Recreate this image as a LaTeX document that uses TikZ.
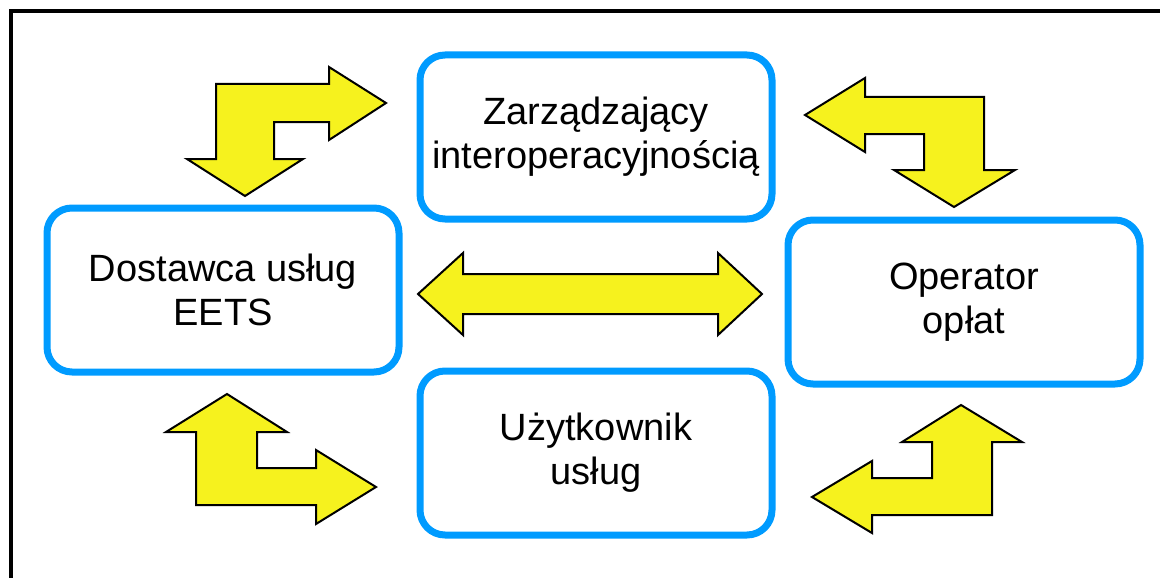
\documentclass[tikz,border=0pt]{standalone}
\usepackage{fontspec}
\setmainfont{Liberation Sans}
\usepackage{tikz}
\usetikzlibrary{positioning}
\definecolor{boxblue}{RGB}{0,155,255}
\definecolor{arrowyellow}{RGB}{246,242,30}

\begin{document}
\begin{tikzpicture}[x=1pt,y=-1pt,
    role/.style={draw=boxblue,line width=7pt,rounded corners=25pt,
      minimum width=352pt,minimum height=164pt,align=center,
      font=\fontsize{38}{44}\selectfont},
    bigarrow/.style={draw=black,fill=arrowyellow,line width=2pt,line join=miter}]
    \useasboundingbox (0,0) rectangle (1160,578);
    % frame
    \draw[line width=4pt,line join=miter] (11,578) -- (11,11) -- (1160,11);
    % the four parties
    \node [role] (zarz) at (596,137) {Zarządzający\\interoperacyjnością};
    \node [role] (dost) at (223,290) {Dostawca usług\\EETS};
    \node [role] (oper) at (964,302) {Operator\\opłat};
    \node [role] (uzyt) at (596,453) {Użytkownik\\usług};
    % block arrows
    \path[bigarrow] (216,84) -- (329,84) -- (329,67) -- (386,103) -- (329,140)
      -- (329,122) -- (274,122) -- (274,159) -- (303,159) -- (245,196)
      -- (187,159) -- (216,159) -- cycle;
    \path[bigarrow] (805,115) -- (865,78) -- (865,97) -- (984,97) -- (984,170)
      -- (1015,170) -- (954,207) -- (894,170) -- (924,170) -- (924,134)
      -- (865,134) -- (865,152) -- cycle;
    \path[bigarrow] (227,394) -- (287,432) -- (257,432) -- (257,468) -- (316,468)
      -- (316,450) -- (376,487) -- (316,524) -- (316,505) -- (196,505)
      -- (196,432) -- (166,432) -- cycle;
    \path[bigarrow] (961,405) -- (1022,442) -- (992,442) -- (992,515) -- (872,515)
      -- (872,533) -- (812,497) -- (872,461) -- (872,478) -- (932,478)
      -- (932,442) -- (902,442) -- cycle;
    \path[bigarrow] (418,294) -- (463,253) -- (463,274) -- (718,274) -- (718,253)
      -- (762,294) -- (718,335) -- (718,314) -- (463,314) -- (463,335) -- cycle;
\end{tikzpicture}
\end{document}
